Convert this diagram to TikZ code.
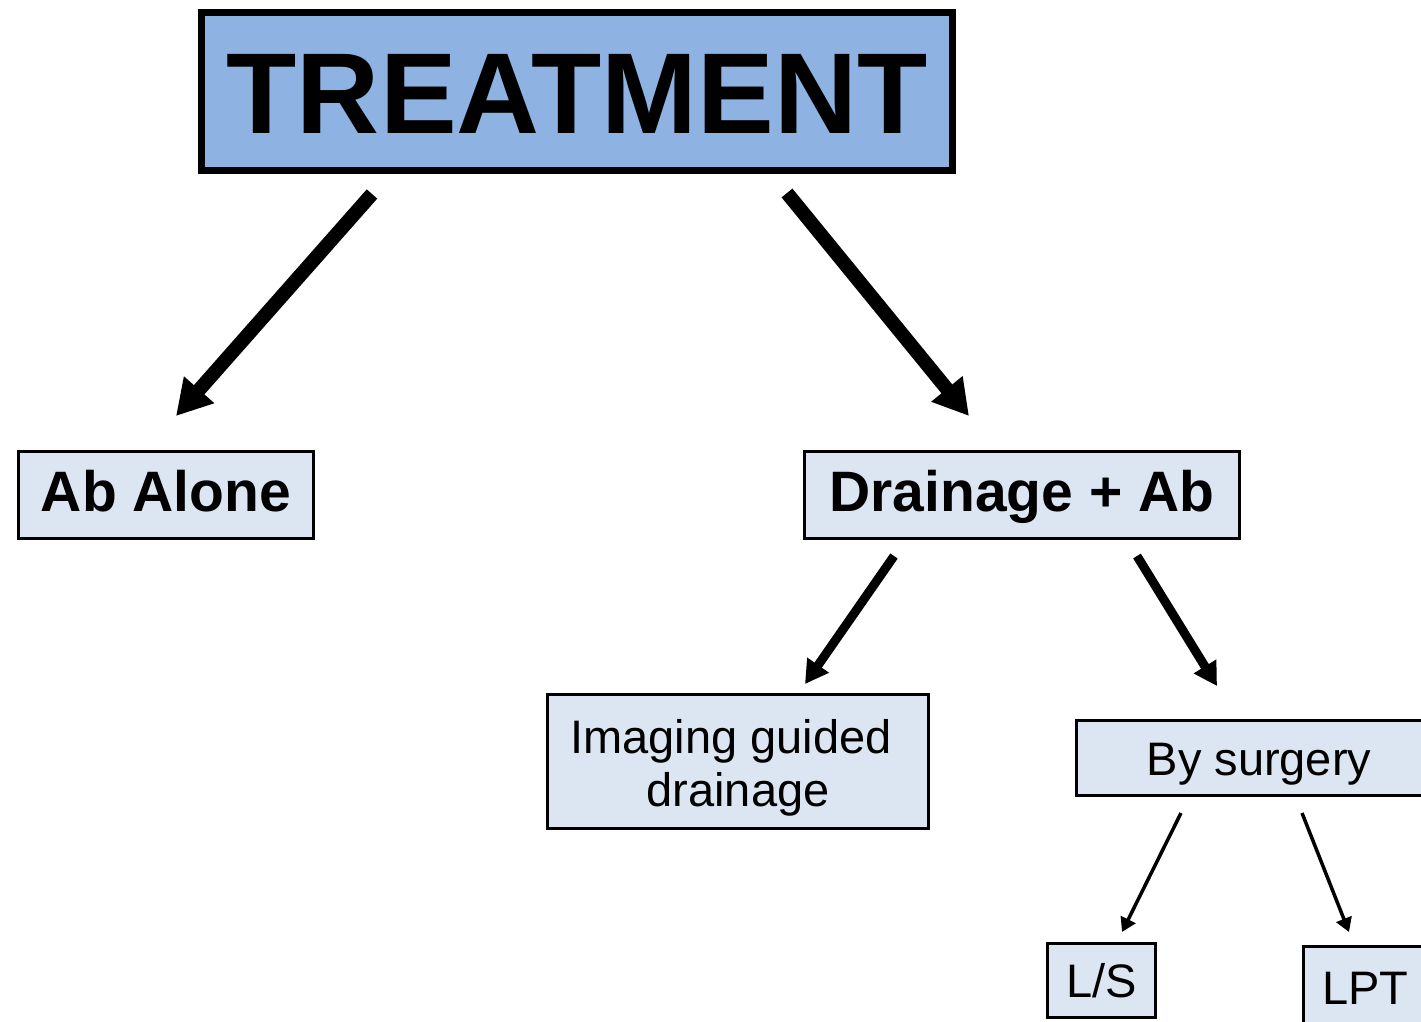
\documentclass[tikz,border=0pt]{standalone}
\usepackage{fontspec}
\setmainfont{Liberation Sans}
\usetikzlibrary{arrows.meta, positioning}
\definecolor{topblue}{RGB}{142,179,227}
\definecolor{paleblue}{RGB}{220,230,242}
\tikzset{
  topbox/.style={rectangle, draw=black, fill=topblue,
    line width=7pt, inner sep=0pt, text height=83pt, text depth=0pt,
    font=\fontsize{115}{120}\selectfont\bfseries},
  bigbox/.style={rectangle, draw=black, fill=paleblue,
    line width=3pt, inner sep=0pt, text height=41pt, text depth=8pt,
    font=\fontsize{57}{62}\selectfont\bfseries},
  smallbox/.style={rectangle, draw=black, fill=paleblue,
    line width=3pt, inner sep=0pt, text height=34pt, text depth=0pt,
    font=\fontsize{47}{53}\selectfont},
  twolinebox/.style={rectangle, draw=black, fill=paleblue,
    line width=3pt, inner sep=0pt, align=center,
    font=\fontsize{47}{53}\selectfont},
  fatarrow/.style={-{Triangle[length=35pt,width=38pt]}, line width=14pt},
  midarrow/.style={-{Triangle[length=23pt,width=25pt]}, line width=9pt},
  thinarrow/.style={-{Triangle[length=14pt,width=16pt]}, line width=3.5pt}
}

\begin{document}
\begin{tikzpicture}[x=1pt, y=-1pt]
  \clip (0,0) rectangle (1421,1021);
  \fill[white] (0,0) rectangle (1421,1021);

  \node[topbox, minimum width=751pt, minimum height=158pt] (treat) at (577,91.5) {TREATMENT};
  \node[bigbox, minimum width=295pt, minimum height=87pt] (alone) at (166,495) {Ab Alone};
  \node[bigbox, minimum width=435pt, minimum height=87pt] (drain) at (1022,495) {Drainage + Ab};
  \node[twolinebox, minimum width=381pt, minimum height=134pt] (imaging) at (738,761.5)
    {\rule{0pt}{46pt}Imaging guided\hspace*{14pt}\\drainage};
  \node[smallbox, minimum width=365pt, minimum height=75pt] (surgery) at (1259,758) {By surgery};
  \node[smallbox, minimum width=108pt, minimum height=74pt] (ls) at (1101.5,980.5) {L/S};
  \node[smallbox, minimum width=124pt, minimum height=81pt] (lpt) at (1365.5,987) {LPT};

  % arrow ends, they stop short of the boxes
  \coordinate (t1) at (372,194);
  \coordinate (t2) at (787,193);
  \coordinate (a1) at (176,416);
  \coordinate (d1) at (969,416);
  \coordinate (d2) at (894,556);
  \coordinate (d3) at (1137,556);
  \coordinate (i1) at (805,684);
  \coordinate (s1) at (1217,686);
  \coordinate (s2) at (1181,813);
  \coordinate (s3) at (1302,813);
  \coordinate (l1) at (1122,932);
  \coordinate (l2) at (1349,932);

  \draw[fatarrow] (t1) -- (a1);
  \draw[fatarrow] (t2) -- (d1);
  \draw[midarrow] (d2) -- (i1);
  \draw[midarrow] (d3) -- (s1);
  \draw[thinarrow] (s2) -- (l1);
  \draw[thinarrow] (s3) -- (l2);
\end{tikzpicture}
\end{document}
